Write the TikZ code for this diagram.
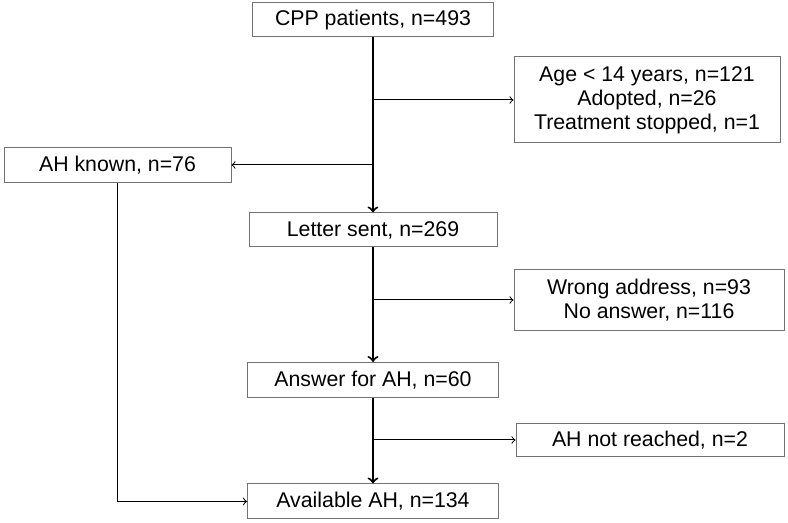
\documentclass[tikz,border=0pt]{standalone}
\usepackage{fontspec}
\setmainfont{Liberation Sans}
\usetikzlibrary{arrows,positioning}

\begin{document}
\begin{tikzpicture}[x=0.5pt,y=-0.5pt,
  box/.style={draw=black!55,line width=0.5pt,align=center,inner sep=0pt,font=\fontsize{10.65}{12}\selectfont},
  main/.style={->,line width=1pt},
  side/.style={->,line width=0.5pt}]
  \useasboundingbox (0,0) rectangle (788,523);
  % main column
  \node[box,minimum width=120.5pt,minimum height=17pt] (cpp) at (373,20) {CPP patients, n=493};
  \node[box,minimum width=124pt,minimum height=17pt] (letter) at (373,230) {Letter sent, n=269};
  \node[box,minimum width=125.5pt,minimum height=17.5pt] (answer) at (373,380) {Answer for AH, n=60};
  \node[box,minimum width=125.5pt,minimum height=17.5pt] (avail) at (373,501.5) {Available AH, n=134};
  % exclusions
  \node[box,minimum width=133pt,minimum height=43pt] (age) at (647,100) {Age < 14 years, n=121\\Adopted, n=26\\Treatment stopped, n=1};
  \node[box,minimum width=113.5pt,minimum height=17.5pt] (known) at (117.5,165) {AH known, n=76};
  \node[box,minimum width=135pt,minimum height=30.5pt] (wrong) at (649,300) {Wrong address, n=93\\No answer, n=116};
  \node[box,minimum width=134pt,minimum height=16.5pt] (reached) at (650,440) {AH not reached, n=2};

  \coordinate (b1) at (373,100);
  \coordinate (b2) at (373,165);
  \coordinate (b3) at (373,300);
  \coordinate (b4) at (373,440);

  \draw[main] (cpp) -- (letter);
  \draw[main] (letter) -- (answer);
  \draw[main] (answer) -- (avail);
  \draw[side] (b1) -- (age);
  \draw[side] (b2) -- (known);
  \draw[side] (b3) -- (wrong);
  \draw[side] (b4) -- (reached);
  \draw[side] (known) |- (avail);
\end{tikzpicture}
\end{document}
